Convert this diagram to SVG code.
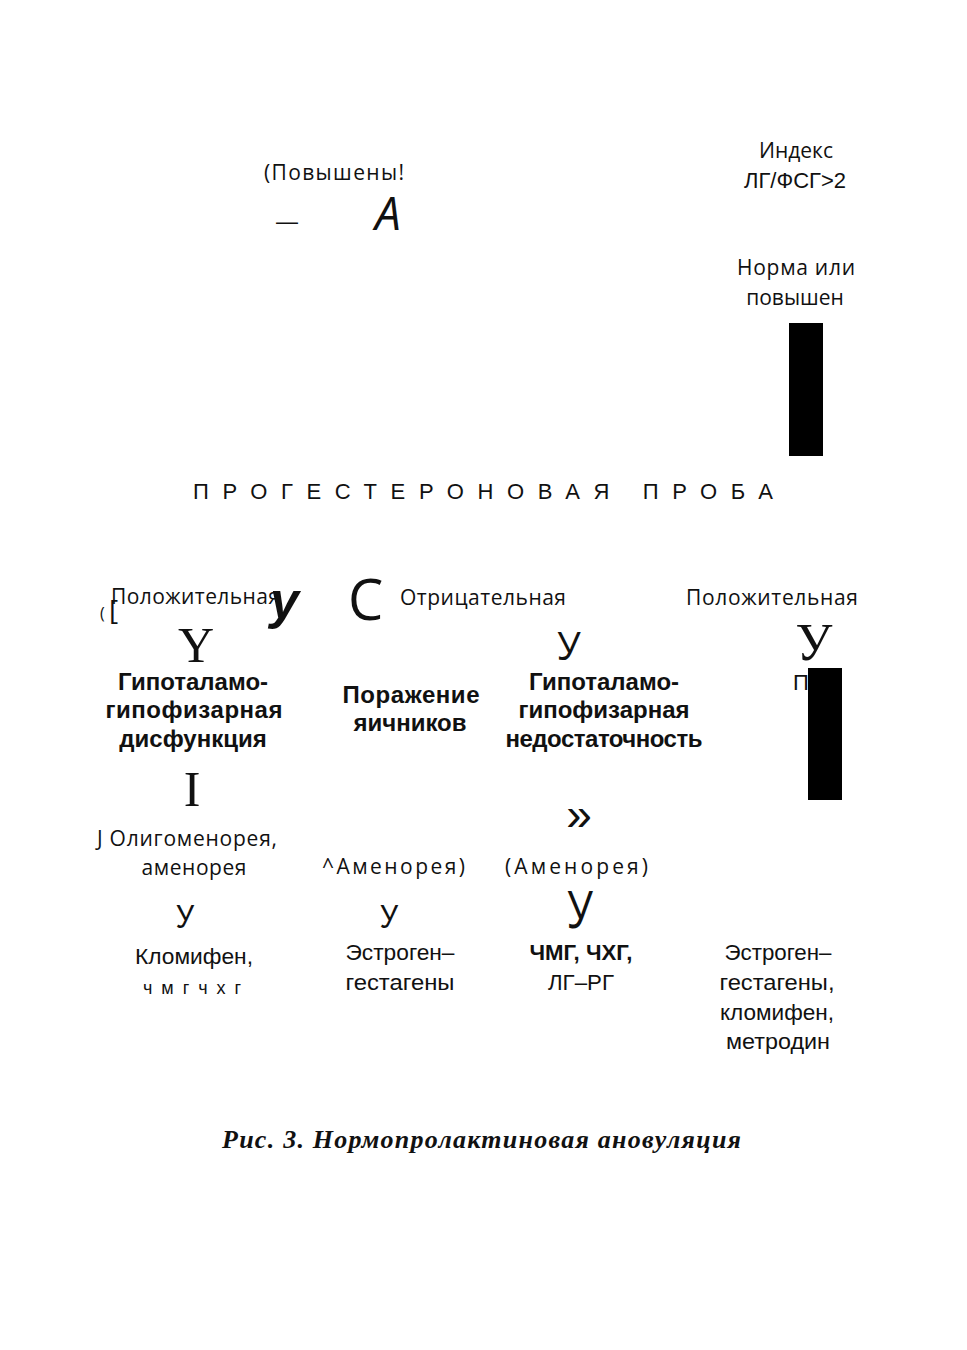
<svg xmlns="http://www.w3.org/2000/svg" width="967" height="1350" viewBox="0 0 967 1350">
<style>
.os{font-family:"Open Sans","Noto Sans","DejaVu Sans",sans-serif;fill:#111}
.ar{font-family:"Liberation Sans",Arial,sans-serif;fill:#111}
.sr{font-family:"Liberation Serif","Times New Roman",serif;fill:#111}
.b{font-weight:bold}
.m{text-anchor:middle}
.bar{fill:#000}
</style>
<rect width="967" height="1350" fill="#fff"/>
<g id="top-left">
<text class="os" x="264" y="180" font-size="21" textLength="140">(Повышены!</text>
<text class="ar" x="276" y="229" font-size="22">—</text>
<text class="os" x="375" y="230" font-size="46" font-style="italic">A</text>
</g>
<g id="index">
<text class="os m" x="796" y="158" font-size="21">Индекс</text>
<text class="ar m" x="795" y="188" font-size="22">ЛГ/ФСГ&gt;2</text>
</g>
<g id="norma">
<text class="os m" x="796" y="275" font-size="21" textLength="118">Норма или</text>
<text class="os m" x="795" y="305" font-size="21">повышен</text>
<rect class="bar" x="789" y="323" width="34" height="133"/>
</g>
<g id="title">
<text class="ar" x="193" y="499" font-size="22" textLength="580" lengthAdjust="spacing">ПРОГЕСТЕРОНОВАЯ ПРОБА</text>
</g>
<g id="row-results">
<text class="os" x="100" y="619" font-size="16">(</text>
<text class="os" x="109" y="620" font-size="28">[</text>
<text class="os" x="111" y="604" font-size="21" textLength="169">Положительная</text>
<text class="ar b" x="270" y="618" font-size="52" font-style="italic">у</text>
<text class="os" x="348" y="620" font-size="56">C</text>
<text class="os" x="400" y="605" font-size="21" textLength="166">Отрицательная</text>
<text class="os" x="686" y="605" font-size="21" textLength="172">Положительная</text>
</g>
<g id="col1">
<text class="sr m" x="196" y="662" font-size="50">Y</text>
<text class="ar b m" x="193" y="690" font-size="24">Гипоталамо-</text>
<text class="ar b m" x="194" y="718" font-size="24" textLength="177">гипофизарная</text>
<text class="ar b m" x="193" y="747" font-size="24">дисфункция</text>
<text class="sr m" x="192" y="806" font-size="50">I</text>
<text class="os" x="97" y="846" font-size="21" textLength="180">J Олигоменорея,</text>
<text class="os m" x="194" y="875" font-size="21" textLength="105">аменорея</text>
<text class="ar m" x="185" y="928" font-size="34" transform="translate(185,928) scale(0.85,1) translate(-185,-928)">У</text>
<text class="ar m" x="194" y="964" font-size="22" textLength="118" lengthAdjust="spacingAndGlyphs">Кломифен,</text>
<text class="ar m" x="192" y="994" font-size="18" textLength="98" lengthAdjust="spacing">чмгчхг</text>
</g>
<g id="col2">
<text class="ar b m" x="411" y="703" font-size="24" textLength="137">Поражение</text>
<text class="ar b m" x="410" y="731" font-size="24">яичников</text>
<text class="os" x="322" y="874" font-size="21" textLength="143">^Аменорея)</text>
<text class="ar m" x="389" y="928" font-size="34" transform="translate(389,928) scale(0.85,1) translate(-389,-928)">У</text>
<text class="ar m" x="400" y="960" font-size="22" textLength="109" lengthAdjust="spacingAndGlyphs">Эстроген–</text>
<text class="ar m" x="400" y="990" font-size="22" textLength="109" lengthAdjust="spacingAndGlyphs">гестагены</text>
</g>
<g id="col3">
<text class="os m" x="569" y="660" font-size="38">У</text>
<text class="ar b m" x="604" y="690" font-size="24">Гипоталамо-</text>
<text class="ar b m" x="604" y="718" font-size="24">гипофизарная</text>
<text class="ar b m" x="604" y="747" font-size="24" textLength="197">недостаточность</text>
<text class="ar m" x="579" y="830" font-size="46">»</text>
<text class="os" x="505" y="874" font-size="21" textLength="143">(Аменорея)</text>
<text class="os m" x="580" y="928" font-size="52" transform="translate(580,928) scale(0.8,1) translate(-580,-928)">У</text>
<text class="ar b m" x="581" y="960" font-size="22" textLength="103" lengthAdjust="spacingAndGlyphs">ЧМГ, ЧХГ,</text>
<text class="ar m" x="581" y="990" font-size="22" textLength="66" lengthAdjust="spacingAndGlyphs">ЛГ–РГ</text>
</g>
<g id="col4">
<text class="sr m" x="814" y="660" font-size="52">У</text>
<text class="ar" x="793" y="690" font-size="22">П</text>
<rect class="bar" x="808" y="668" width="34" height="132"/>
<text class="ar m" x="778" y="960" font-size="22" textLength="107" lengthAdjust="spacingAndGlyphs">Эстроген–</text>
<text class="ar m" x="777" y="990" font-size="22" textLength="115" lengthAdjust="spacingAndGlyphs">гестагены,</text>
<text class="ar m" x="777" y="1020" font-size="22" textLength="114" lengthAdjust="spacingAndGlyphs">кломифен,</text>
<text class="ar m" x="778" y="1049" font-size="22" textLength="104" lengthAdjust="spacingAndGlyphs">метродин</text>
</g>
<g id="caption">
<text class="sr b" x="222" y="1148" font-size="26" font-style="italic" textLength="519" lengthAdjust="spacing">Рис. 3. Нормопролактиновая ановуляция</text>
</g>
<g id="connectors"/>
</svg>
